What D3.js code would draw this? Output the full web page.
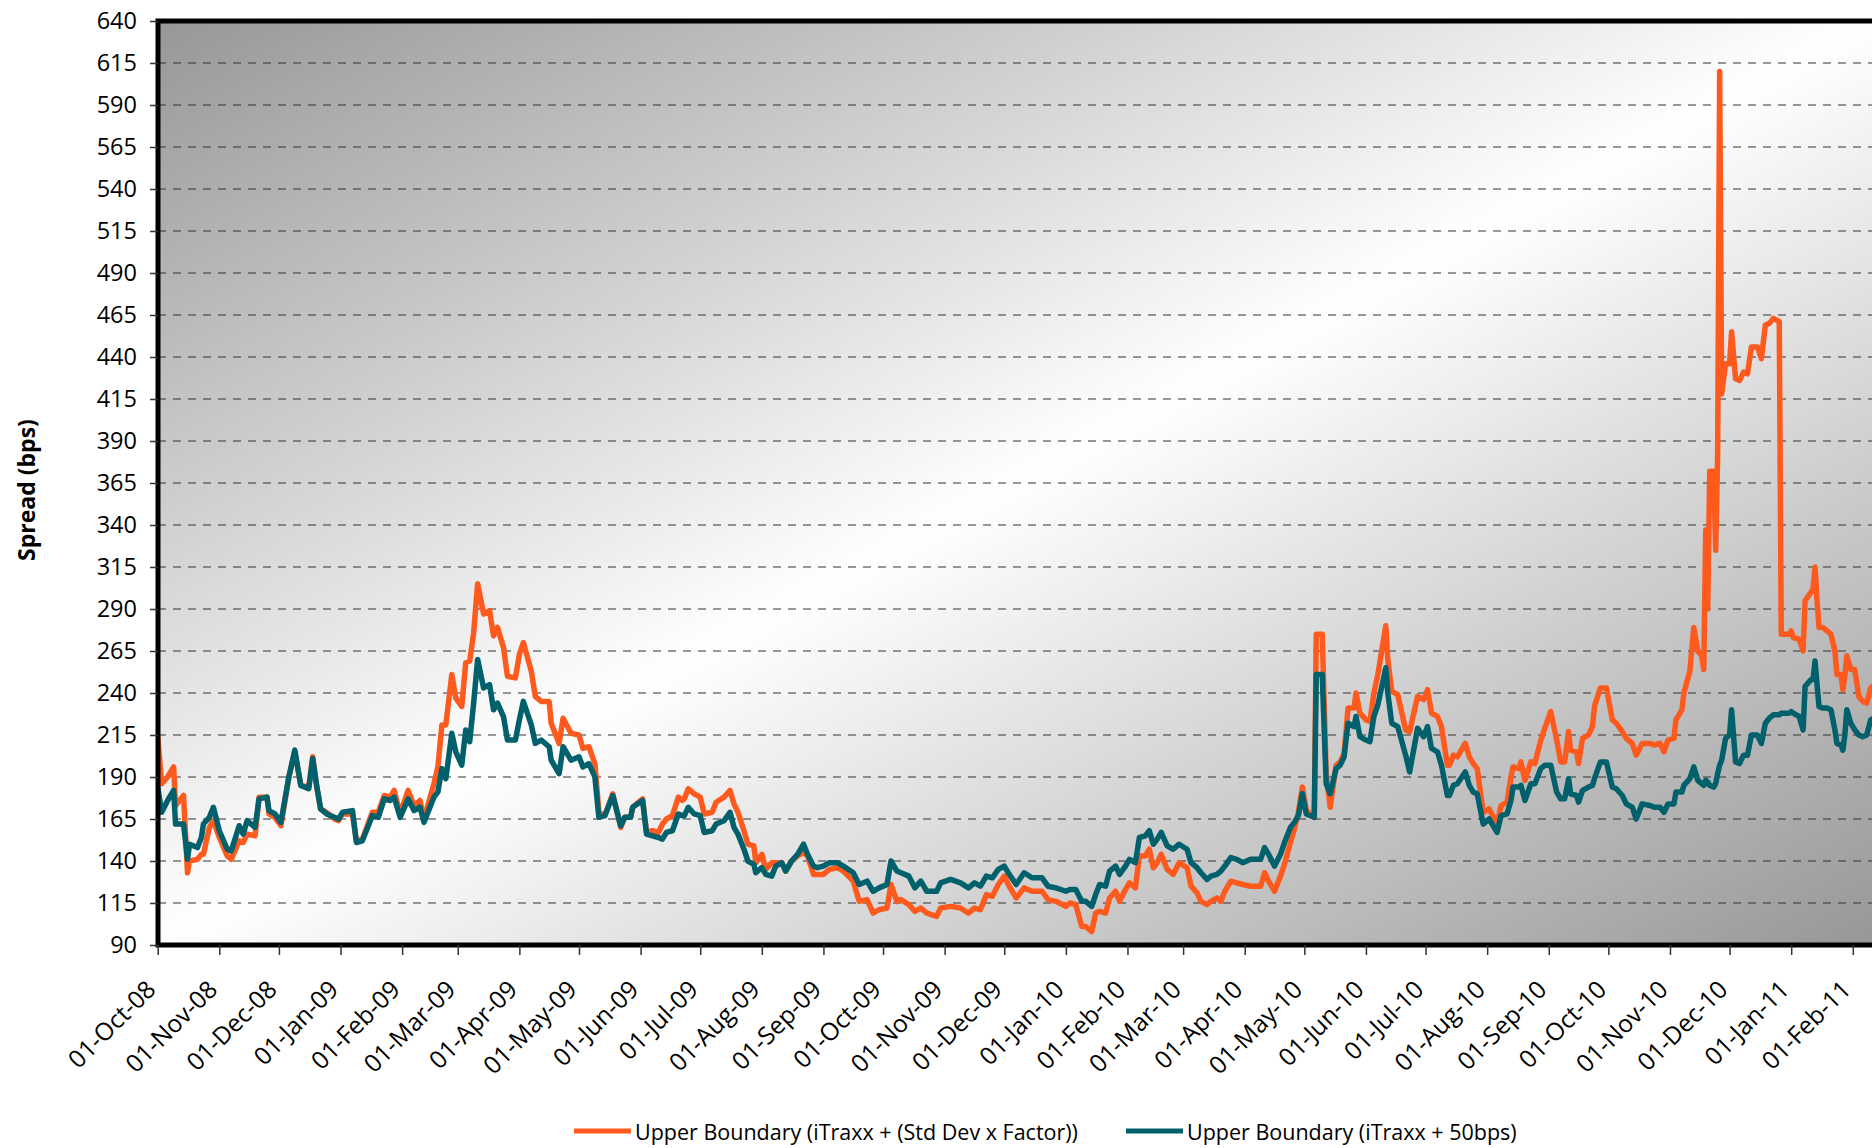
<!DOCTYPE html>
<html>
<head>
<meta charset="utf-8">
<script src="https://cdn.jsdelivr.net/npm/d3@7"></script>
<style>
  html, body { margin: 0; padding: 0; background: #fff; }
  svg { display: block; font-family: "Open Sans", sans-serif; }
</style>
</head>
<body>
<div id="chart"></div>
<script>
    var dates = [
      "2008-10-01","2008-10-03","2008-10-06","2008-10-09","2008-10-10","2008-10-14","2008-10-16","2008-10-17","2008-10-21","2008-10-23","2008-10-24","2008-10-27","2008-10-29",
      "2008-11-01","2008-11-05","2008-11-07","2008-11-11","2008-11-13","2008-11-15","2008-11-19","2008-11-21","2008-11-25","2008-11-26","2008-11-29",
      "2008-12-02","2008-12-06","2008-12-09","2008-12-12","2008-12-16","2008-12-18","2008-12-20","2008-12-22","2008-12-25","2008-12-29","2008-12-31",
      "2009-01-02","2009-01-07","2009-01-09","2009-01-12","2009-01-17","2009-01-20","2009-01-23","2009-01-26","2009-01-28","2009-01-31",
      "2009-02-04","2009-02-07","2009-02-10","2009-02-12","2009-02-17","2009-02-19","2009-02-21","2009-02-23","2009-02-26","2009-02-28",
      "2009-03-03","2009-03-05","2009-03-07","2009-03-09","2009-03-11","2009-03-14","2009-03-17","2009-03-19","2009-03-21","2009-03-24","2009-03-26","2009-03-30",
      "2009-04-01","2009-04-03","2009-04-07","2009-04-09","2009-04-12","2009-04-16","2009-04-17","2009-04-21","2009-04-23","2009-04-27",
      "2009-05-01","2009-05-03","2009-05-06","2009-05-09","2009-05-11","2009-05-14","2009-05-18","2009-05-22","2009-05-24","2009-05-27","2009-05-28",
      "2009-06-02","2009-06-04","2009-06-07","2009-06-10","2009-06-12","2009-06-14","2009-06-17","2009-06-20","2009-06-22","2009-06-23","2009-06-25","2009-06-28",
      "2009-07-01","2009-07-03","2009-07-07","2009-07-09","2009-07-13","2009-07-16","2009-07-18","2009-07-20","2009-07-23","2009-07-25","2009-07-28","2009-07-29",
      "2009-08-01","2009-08-03","2009-08-06","2009-08-08","2009-08-11","2009-08-13","2009-08-16","2009-08-19","2009-08-22","2009-08-24","2009-08-27","2009-08-29",
      "2009-09-01","2009-09-04","2009-09-08","2009-09-11","2009-09-16","2009-09-19","2009-09-23","2009-09-26","2009-09-29",
      "2009-10-03","2009-10-05","2009-10-08","2009-10-10","2009-10-14","2009-10-17","2009-10-20","2009-10-23","2009-10-28","2009-10-30",
      "2009-11-04","2009-11-09","2009-11-13","2009-11-16","2009-11-19","2009-11-22","2009-11-25","2009-11-28",
      "2009-12-01","2009-12-03","2009-12-07","2009-12-11","2009-12-15","2009-12-20","2009-12-23","2009-12-27",
      "2010-01-01","2010-01-03","2010-01-06","2010-01-09","2010-01-11","2010-01-14","2010-01-16","2010-01-18","2010-01-21","2010-01-23","2010-01-26","2010-01-28","2010-01-31",
      "2010-02-02","2010-02-05","2010-02-07","2010-02-10","2010-02-12","2010-02-14","2010-02-16","2010-02-18","2010-02-21","2010-02-24","2010-02-27",
      "2010-03-03","2010-03-05","2010-03-08","2010-03-10","2010-03-13","2010-03-15","2010-03-18","2010-03-20","2010-03-22","2010-03-25","2010-03-28","2010-03-31",
      "2010-04-04","2010-04-09","2010-04-11","2010-04-13","2010-04-16","2010-04-19","2010-04-21","2010-04-24","2010-04-26","2010-04-28","2010-04-30",
      "2010-05-02","2010-05-06","2010-05-07","2010-05-10","2010-05-12","2010-05-14","2010-05-17","2010-05-19","2010-05-21","2010-05-23","2010-05-26","2010-05-27","2010-05-29",
      "2010-06-01","2010-06-03","2010-06-05","2010-06-07","2010-06-11","2010-06-12","2010-06-14","2010-06-17","2010-06-21","2010-06-23","2010-06-27","2010-06-30",
      "2010-07-02","2010-07-04","2010-07-07","2010-07-09","2010-07-12","2010-07-13","2010-07-15","2010-07-17","2010-07-21","2010-07-23","2010-07-25","2010-07-27","2010-07-30",
      "2010-08-02","2010-08-06","2010-08-08","2010-08-11","2010-08-13","2010-08-14","2010-08-17","2010-08-18","2010-08-20","2010-08-23","2010-08-25","2010-08-28","2010-08-30",
      "2010-09-02","2010-09-05","2010-09-07","2010-09-09","2010-09-11","2010-09-12","2010-09-15","2010-09-16","2010-09-18","2010-09-21","2010-09-23","2010-09-24","2010-09-27","2010-09-30",
      "2010-10-03","2010-10-05","2010-10-08","2010-10-10","2010-10-13","2010-10-15","2010-10-18","2010-10-22","2010-10-24","2010-10-27","2010-10-29","2010-10-31",
      "2010-11-03","2010-11-04","2010-11-07","2010-11-08","2010-11-11","2010-11-13","2010-11-15","2010-11-17","2010-11-18","2010-11-19","2010-11-20","2010-11-21","2010-11-23","2010-11-24","2010-11-25","2010-11-26","2010-11-27","2010-11-29",
      "2010-12-01","2010-12-02","2010-12-04","2010-12-06","2010-12-08","2010-12-10","2010-12-12","2010-12-15","2010-12-17","2010-12-19","2010-12-21","2010-12-23","2010-12-26","2010-12-27","2010-12-31",
      "2011-01-01","2011-01-02","2011-01-05","2011-01-07","2011-01-08","2011-01-11","2011-01-12","2011-01-13","2011-01-14","2011-01-15","2011-01-17","2011-01-19","2011-01-21","2011-01-23","2011-01-24","2011-01-26","2011-01-27","2011-01-28","2011-01-29","2011-01-31",
      "2011-02-02","2011-02-04","2011-02-06","2011-02-08","2011-02-10","2011-02-13"
    ];

    // Upper Boundary (iTraxx + (Std Dev x Factor))
    var upperStdDev = [
      214,186,190,196,173,179,133,140,141,144,144,160,164,
      154,143,141,152,151,156,155,178,178,168,166,
      161,190,205,185,184,202,184,171,169,165,164,
      168,168,152,153,169,169,179,178,182,168,
      182,173,176,165,186,196,221,221,251,237,
      232,258,259,276,305,287,289,274,279,267,250,249,
      263,270,253,238,235,235,222,210,225,216,
      215,207,208,198,169,167,180,160,166,166,172,
      177,157,158,157,162,165,167,178,176,177,183,180,
      178,168,169,175,178,182,174,169,158,150,149,139,
      144,135,139,139,139,134,140,143,145,143,132,132,
      132,135,136,134,128,116,117,109,111,
      112,126,116,117,114,110,112,109,107,112,
      113,112,109,112,111,120,119,126,
      131,126,118,124,122,122,117,116,
      113,115,114,101,101,98,109,110,109,118,122,116,123,
      127,124,143,143,147,136,139,144,135,132,139,
      136,125,121,116,114,116,118,116,122,128,127,126,
      125,125,133,128,122,131,138,151,159,169,184,
      170,166,275,275,192,172,197,199,204,231,231,240,228,
      224,223,240,251,280,260,241,239,218,217,238,236,
      242,228,226,220,197,197,203,202,210,202,198,195,169,
      171,162,173,175,190,196,195,199,188,199,198,212,219,
      229,212,199,199,217,206,205,198,213,215,220,232,243,243,
      224,222,217,213,210,203,210,210,209,210,205,212,
      213,224,230,240,253,279,265,262,254,337,290,372,372,325,383,610,418,436,
      436,455,427,426,431,430,446,446,439,459,460,463,461,275,275,
      277,273,272,265,295,300,302,315,295,279,279,277,275,265,251,251,242,250,262,254,
      254,238,235,234,243,246
    ];

    // Upper Boundary (iTraxx + 50bps)
    var upper50bps = [
      184,169,176,182,162,162,141,150,148,154,162,166,172,
      158,147,146,161,156,164,160,177,178,170,168,
      163,190,206,185,183,201,185,171,168,166,165,
      169,170,151,152,167,166,177,176,178,166,
      177,170,172,163,178,181,195,189,216,205,
      197,218,211,234,260,243,245,230,234,226,212,212,
      224,235,221,210,212,208,200,192,208,200,
      202,196,198,190,166,167,179,161,166,166,172,
      176,156,155,154,153,157,158,168,167,167,172,168,
      167,157,158,162,164,169,160,156,147,140,138,133,
      136,132,131,137,139,134,140,144,150,144,137,136,
      137,139,139,137,133,126,128,122,124,
      126,140,134,133,131,124,128,122,122,127,
      129,127,124,127,125,131,130,135,
      137,133,126,133,130,130,125,124,
      122,123,123,116,116,113,120,126,125,134,137,132,137,
      141,139,154,155,158,150,153,157,149,147,150,
      147,139,136,133,129,131,132,134,137,142,141,139,
      141,141,148,144,137,144,151,160,163,167,180,
      168,166,251,251,186,180,195,197,202,222,220,226,214,
      212,211,226,233,255,240,222,220,203,193,219,214,
      220,207,205,197,179,179,185,186,193,185,181,180,162,
      165,157,167,168,176,184,184,185,176,186,186,195,197,
      197,181,177,177,189,180,179,175,182,184,185,189,199,199,
      184,183,179,174,172,165,174,173,172,172,169,174,
      174,181,181,185,189,196,188,186,185,188,187,185,184,186,192,197,200,213,
      215,230,199,198,203,203,215,215,210,222,225,227,227,228,228,
      229,228,226,218,244,248,248,259,245,232,231,231,230,218,210,209,206,215,230,222,
      218,215,214,215,224,226
    ];

    var yTicks = [90, 115, 140, 165, 190, 215, 240, 265, 290, 315, 340, 365, 390, 415, 440, 465, 490, 515, 540, 565, 590, 615, 640];

    var xTickDates = [
      "2008-10-01","2008-11-01","2008-12-01","2009-01-01","2009-02-01","2009-03-01","2009-04-01","2009-05-01",
      "2009-06-01","2009-07-01","2009-08-01","2009-09-01","2009-10-01","2009-11-01","2009-12-01","2010-01-01",
      "2010-02-01","2010-03-01","2010-04-01","2010-05-01","2010-06-01","2010-07-01","2010-08-01","2010-09-01",
      "2010-10-01","2010-11-01","2010-12-01","2011-01-01","2011-02-01"
    ];

    var seriesNames = ["Upper Boundary (iTraxx + (Std Dev x Factor))", "Upper Boundary (iTraxx + 50bps)"];
    var seriesColors = ["#ff5a1e", "#00606b"];
    var yTitle = "Spread (bps)";

    var parseDate = d3.utcParse("%Y-%m-%d");

    var series = [upperStdDev, upper50bps].map(function(vals, i) {
      return {
        name: seriesNames[i],
        color: seriesColors[i],
        values: dates.map(function(d, j) { return { date: parseDate(d), value: vals[j] }; })
      };
    });

    var width = 1872, height = 1148;
    var plotLeft = 158, plotTop = 21, plotBottom = 945, plotRight = 1900;

    var svg = d3.select("#chart")
                .append("svg")
                .attr("width", width)
                .attr("height", height);

    var xScale = d3.scaleUtc()
                   .domain([parseDate("2008-10-01"), parseDate("2011-02-01")])
                   .range([157.7, 1852.8]);

    var yScale = d3.scaleLinear()
                   .domain([90, 640])
                   .range([plotBottom, plotTop]);

    var defs = svg.append("defs");

    // diagonal two-tone fill: dark corners top-left / bottom-right, white band between
    var grad = defs.append("linearGradient")
                   .attr("id", "bg")
                   .attr("x1", 0).attr("y1", 0)
                   .attr("x2", 1).attr("y2", 1);
    grad.append("stop").attr("offset", 0).attr("stop-color", "#979797");
    grad.append("stop").attr("offset", 0.5).attr("stop-color", "#ffffff");
    grad.append("stop").attr("offset", 1).attr("stop-color", "#979797");

    defs.append("clipPath")
        .attr("id", "plotClip")
        .append("rect")
        .attr("x", plotLeft)
        .attr("y", plotTop)
        .attr("width", plotRight - plotLeft)
        .attr("height", plotBottom - plotTop);

    svg.append("rect")
       .attr("x", plotLeft)
       .attr("y", plotTop)
       .attr("width", width - plotLeft)
       .attr("height", plotBottom - plotTop)
       .attr("fill", "url(#bg)");

    // dashed gridlines
    svg.append("g")
       .selectAll("line")
       .data(yTicks.filter(function(t) { return t > 90 && t < 640; }))
       .enter()
       .append("line")
       .attr("x1", plotLeft)
       .attr("x2", plotRight)
       .attr("y1", function(d) { return yScale(d); })
       .attr("y2", function(d) { return yScale(d); })
       .attr("stroke", "#333")
       .attr("stroke-width", 1.2)
       .attr("stroke-dasharray", "8,7");

    var line = d3.line()
                 .x(function(d) { return xScale(d.date); })
                 .y(function(d) { return yScale(d.value); });

    svg.append("g")
       .attr("clip-path", "url(#plotClip)")
       .selectAll("path")
       .data(series)
       .enter()
       .append("path")
       .attr("fill", "none")
       .attr("stroke", function(d) { return d.color; })
       .attr("stroke-width", 5.5)
       .attr("stroke-linejoin", "round")
       .attr("stroke-linecap", "round")
       .attr("d", function(d) { return line(d.values); });

    // plot frame
    svg.append("rect")
       .attr("x", plotLeft)
       .attr("y", plotTop)
       .attr("width", plotRight - plotLeft)
       .attr("height", plotBottom - plotTop)
       .attr("fill", "none")
       .attr("stroke", "#000")
       .attr("stroke-width", 5);

    var yAxis = svg.append("g")
       .attr("transform", "translate(" + plotLeft + ",0)")
       .call(d3.axisLeft(yScale).tickValues(yTicks).tickSize(8).tickPadding(13));

    yAxis.select(".domain").remove();
    yAxis.selectAll(".tick line").attr("stroke", "#333").attr("stroke-width", 1.5);
    yAxis.selectAll(".tick text")
         .attr("font-family", "'Open Sans', sans-serif")
         .attr("font-size", 23.5)
         .attr("fill", "#000");

    var xAxis = svg.append("g")
       .attr("transform", "translate(0," + plotBottom + ")")
       .call(d3.axisBottom(xScale)
               .tickValues(xTickDates.map(parseDate))
               .tickFormat(d3.utcFormat("%d-%b-%y"))
               .tickSize(10));

    xAxis.select(".domain").remove();
    xAxis.selectAll(".tick line").attr("stroke", "#333").attr("stroke-width", 1.5);
    xAxis.selectAll(".tick text")
         .attr("font-family", "'Open Sans', sans-serif")
         .attr("font-size", 24.5)
         .attr("fill", "#000")
         .attr("text-anchor", "end")
         .attr("x", 0)
         .attr("y", 0)
         .attr("dy", 0)
         .attr("transform", "translate(-1,46) rotate(-45)");

    svg.append("text")
       .attr("transform", "translate(27,490) rotate(-90)")
       .attr("text-anchor", "middle")
       .attr("dy", "0.35em")
       .attr("font-size", 23)
       .attr("font-weight", "bold")
       .text(yTitle);

    // legend
    var legendX = [574, 1126];
    var legend = svg.append("g")
                    .selectAll("g")
                    .data(series)
                    .enter()
                    .append("g")
                    .attr("transform", function(d, i) { return "translate(" + legendX[i] + ",1131)"; });

    legend.append("line")
          .attr("x1", 0)
          .attr("x2", 57)
          .attr("stroke", function(d) { return d.color; })
          .attr("stroke-width", 5);

    legend.append("text")
          .attr("x", 61)
          .attr("y", 9)
          .attr("font-size", 21.5)
          .attr("fill", "#000")
          .text(function(d) { return d.name; });
</script>
</body>
</html>
